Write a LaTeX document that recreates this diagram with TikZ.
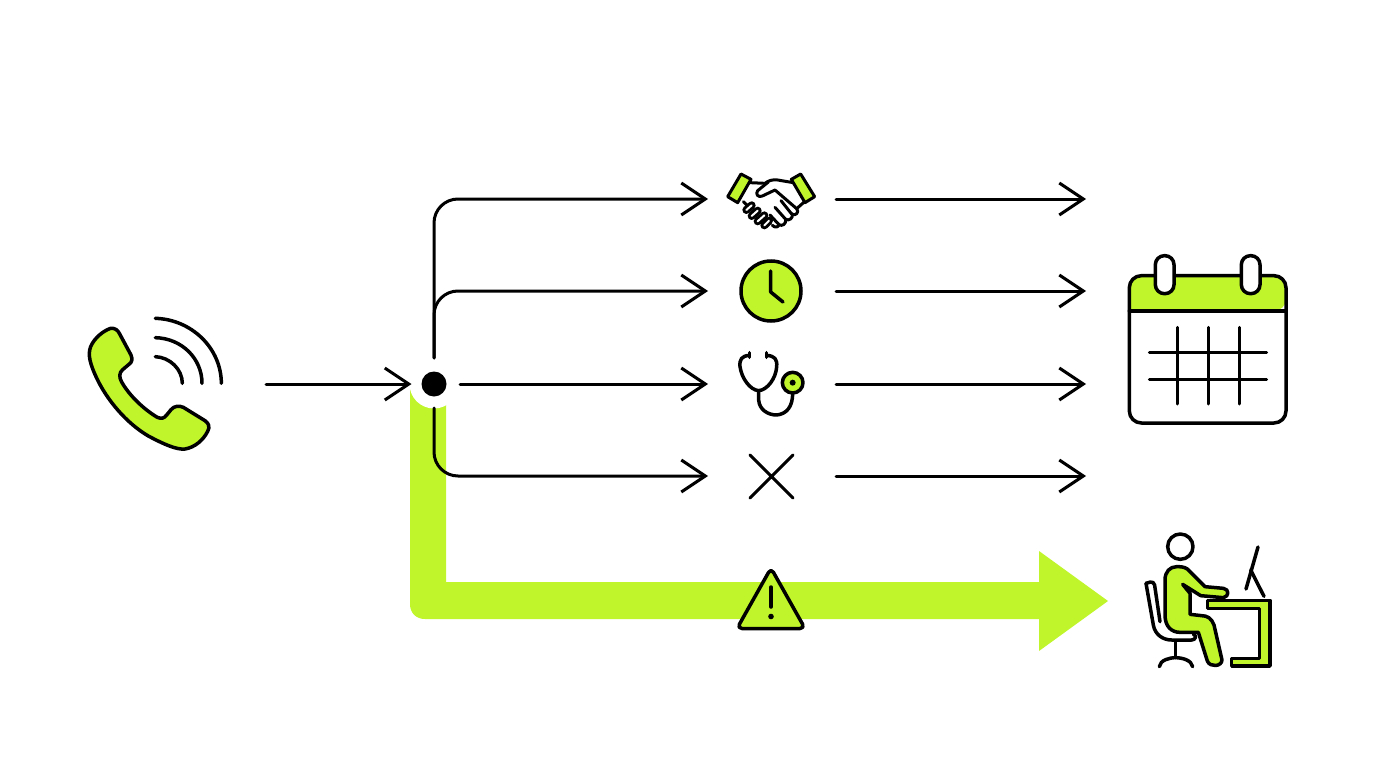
\documentclass[tikz,border=0pt]{standalone}
\usetikzlibrary{arrows.meta,calc}
\definecolor{lime}{HTML}{BFF52A}
\tikzset{
  conn/.style={line width=3pt,line cap=round,line join=round,draw=black,-{Straight Barb[length=24pt,width=32pt,line width=3pt]}},
  icon/.style={line width=3.5pt,line cap=round,line join=round,draw=black},
  iconfill/.style={icon,fill=lime},
  thin/.style={icon,line width=3pt},
  zoomA/.style={x=0.33333pt,y=-0.33333pt}
}
\begin{document}
\begin{tikzpicture}[x=1pt,y=-1pt]
\useasboundingbox (0,0) rectangle (1376,768);
% big green arrow
\fill[lime] (410,384) -- (410,604) .. controls (410,613) and (416,619) .. (425,619) -- (1039,619) -- (1039,651) -- (1108,601) -- (1039,551) -- (1039,582) -- (446,582) -- (446,384) -- cycle;
\fill[white] (434,384) circle (24.5pt);
% junction
\node[circle,fill=black,inner sep=0pt,minimum size=25pt] (hub) at (434,384) {};
\coordinate (in) at (266,384);
\coordinate (inEnd) at (411.5,384);
\coordinate (upS) at (434,358);
\coordinate (downS) at (434,408);
\coordinate (midS) at (460,384);
\foreach \n/\y in {a/199,b/291,c/384,d/476}{
  \coordinate (\n L) at (708,\y);
  \coordinate (\n R) at (836,\y);
  \coordinate (\n E) at (1086,\y);
  \draw[conn] (\n R) -- (\n E);
}
\draw[conn] (in) -- (inEnd);
\draw[conn,rounded corners=24pt] (upS) -- (upS |- aL) -- (aL);
\draw[conn,rounded corners=24pt] (upS) -- (upS |- bL) -- (bL);
\draw[conn] (midS) -- (cL);
\draw[conn,rounded corners=24pt] (downS) -- (downS |- dL) -- (dL);
% phone
\begin{scope}[shift={(70,300)},zoomA]
\draw[iconfill] (122,85) .. controls (135,84) and (143,90) .. (148,100) -- (183,165)
 .. controls (188,178) and (186,186) .. (178,192) -- (158,209)
 .. controls (147,218) and (147,232) .. (155,246)
 .. controls (180,290) and (225,330) .. (262,352)
 .. controls (275,358) and (283,354) .. (290,345) -- (303,329)
 .. controls (312,318) and (327,316) .. (340,322) -- (405,362)
 .. controls (417,370) and (420,382) .. (413,394)
 .. controls (400,420) and (375,442) .. (345,447)
 .. controls (320,450) and (280,432) .. (235,408)
 .. controls (170,370) and (110,300) .. (78,230)
 .. controls (62,195) and (52,165) .. (62,140)
 .. controls (72,115) and (100,92) .. (122,85) -- cycle;
\draw[icon] (256,170) .. controls (300,172) and (337,208) .. (337,250);
\draw[icon] (256,113) .. controls (335,115) and (396,175) .. (396,250);
\draw[icon] (256,55) .. controls (365,58) and (454,145) .. (454,250);
\end{scope}
% handshake
\begin{scope}[shift={(715,160)},zoomA]
\draw[thin] (105,68) -- (150,70) .. controls (160,62) and (172,58) .. (188,60) -- (235,68);
\draw[thin,fill=white] (160,66) -- (128,92) .. controls (120,102) and (130,114) .. (142,108) -- (180,90) -- (245,146) .. controls (254,156) and (242,170) .. (230,162);
\draw[thin] (272,122) -- (245,146);
\draw[thin] (85,125) -- (100,140);
\draw[thin] (198,122) -- (230,162);
\draw[thin] (232,162) .. controls (235,174) and (222,184) .. (212,178) -- (180,142);
\draw[thin] (212,178) .. controls (214,192) and (202,200) .. (192,194) -- (165,165);
\draw[thin] (192,194) .. controls (190,202) and (180,204) .. (172,196);
\foreach \a/\b/\c/\d in {94/150/110/136,110/168/128/152,128/184/148/166,148/196/162/182}{
  \draw[line width=8pt,line cap=round,black] (\a,\b) -- (\c,\d);
  \draw[line width=2pt,line cap=round,white] (\a,\b) -- (\c,\d);
}
\draw[thin,fill=lime] (78,42) -- (108,58) -- (68,128) -- (38,110) -- cycle;
\draw[thin,fill=lime] (257,42) -- (229,58) -- (270,128) -- (299,110) -- cycle;
\end{scope}
% clock
\node[circle,draw=black,line width=3.5pt,fill=lime,inner sep=0pt,minimum size=60pt] (clock) at (771,291) {};
\draw[icon] (770.7,271) -- (770.7,292) -- (783,302);
% stethoscope
\begin{scope}[shift={(720,340)},zoomA]
\draw[icon] (88,38) -- (88,52) (140,38) -- (140,52);
\draw[icon] (88,46) .. controls (65,48) and (58,58) .. (60,80) .. controls (65,115) and (90,150) .. (116,152) .. controls (142,150) and (168,115) .. (170,80) .. controls (172,58) and (165,48) .. (140,46);
\draw[icon] (116,152) -- (116,180) .. controls (118,210) and (145,225) .. (170,225) .. controls (200,222) and (218,200) .. (218,160);
\draw[iconfill] (218,128) circle[x radius=31,y radius=-31];
\fill (218,128) circle[x radius=9,y radius=-9];
\end{scope}
% X
\coordinate (xa) at (750,455); \coordinate (xb) at (793,498);
\coordinate (xc) at (793,455); \coordinate (xd) at (750,498);
\draw[icon,line width=3pt] (xa) -- (xb) (xc) -- (xd);
% warning
\draw[line width=3.5pt,draw=black,fill=lime,line join=round,rounded corners=5pt] (771,568) -- (805,628.5) -- (737,628.5) -- cycle;
\draw[icon] (771,587) -- (771,607);
\fill (771,616.5) circle (2.8pt);
% calendar
\begin{scope}[shift={(1120,245)},zoomA]
\fill[lime,rounded corners=12pt] (28,198) -- (28,92) -- (498,92) -- (498,198) [sharp corners] -- cycle;
\draw[icon,rounded corners=12pt] (28,198) -- (28,92) -- (498,92) -- (498,534) -- (28,534) -- cycle;
\draw[icon] (28,198) -- (498,198);
\foreach \x in {134,392}{
  \draw[icon,fill=white,rounded corners=9pt] (\x-28,32) -- (\x+28,32) -- (\x+28,146) -- (\x-28,146) -- cycle;
}
\foreach \x in {171,264,357}{\draw[icon,line width=3pt] (\x,247) -- (\x,477);}
\foreach \y in {321,402}{\draw[icon,line width=3pt] (88,\y) -- (440,\y);}
\end{scope}
% person
\begin{scope}[shift={(1130,525)},zoomA]
\draw[icon] (151,65) circle[x radius=38,y radius=-38];
% chair
\draw[icon,rounded corners=4pt] (48,175) -- (72,168) -- (90,290);
\draw[icon] (48,175) -- (70,300) .. controls (75,330) and (100,345) .. (125,345) -- (185,345) .. controls (198,345) and (200,330) .. (190,328);
\draw[icon] (136,348) -- (136,398);
\draw[icon] (88,425) .. controls (90,405) and (120,398) .. (136,398) .. controls (155,398) and (185,405) .. (188,425);
% body
\draw[iconfill] (140,125) .. controls (120,125) and (105,140) .. (105,165) -- (105,270) .. controls (105,305) and (125,322) .. (150,322) -- (205,322) -- (232,408) .. controls (240,428) and (275,425) .. (276,405) -- (252,300) .. controls (245,280) and (232,272) .. (215,272) -- (180,268) -- (180,205) -- (158,178) -- (212,212) -- (280,218) .. controls (298,215) and (298,192) .. (280,190) -- (225,185) -- (172,132) .. controls (162,125) and (150,125) .. (140,125) -- cycle;
% desk
\draw[iconfill] (232,226) -- (420,226) -- (420,423) -- (305,423) -- (305,400) -- (388,400) -- (388,250) -- (232,250) -- cycle;
% monitor
\draw[icon] (384,66) -- (348,192);
\draw[icon] (362,135) -- (402,214);
\end{scope}
\end{tikzpicture}
\end{document}
